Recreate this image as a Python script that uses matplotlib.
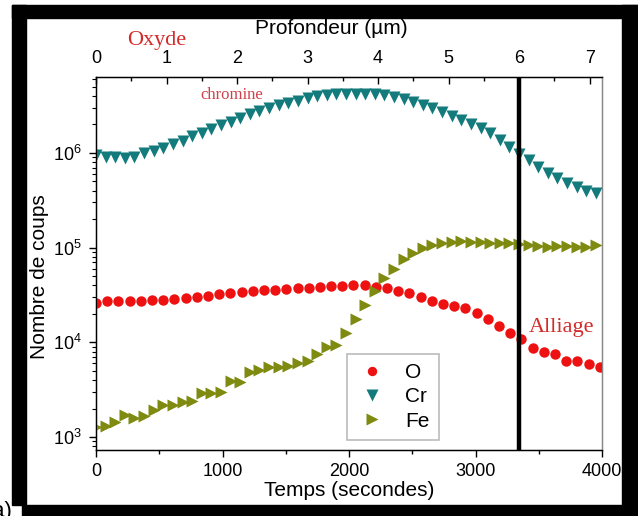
import numpy as np
import matplotlib
matplotlib.use('Agg')
import matplotlib.pyplot as plt
from matplotlib.patches import Rectangle
from matplotlib.ticker import MultipleLocator, LogLocator, NullFormatter

plt.rcParams['font.family'] = ['Liberation Sans', 'DejaVu Sans']
plt.rcParams['mathtext.fontset'] = 'custom'
plt.rcParams['mathtext.rm'] = 'Liberation Sans'
plt.rcParams['mathtext.it'] = 'Liberation Sans:italic'

# --- data ---
t_o = [0, 88.5, 177, 265.5, 354, 442.5, 531, 619.5, 708, 796.5, 885, 973.5,
       1062, 1150.5, 1239, 1327.5, 1416, 1504.5, 1593, 1681.5, 1770, 1858.5,
       1947, 2035.5, 2124, 2212.5, 2301, 2389.5, 2478, 2566.5, 2655, 2743.5,
       2832, 2920.5, 3009, 3097.5, 3186, 3274.5, 3363, 3451.5, 3540, 3628.5,
       3717, 3805.5, 3894, 3982.5]
O = [26200, 27500, 27300, 27300, 27500, 28000, 28000, 28700, 29200, 29900,
     30900, 32100, 33000, 34300, 34800, 35700, 35700, 36900, 37300, 37800,
     38700, 39400, 39600, 40300, 40300, 38700, 37300, 35100, 33000, 29900,
     27300, 25400, 24200, 22900, 20500, 17500, 14900, 12600, 10800, 8650,
     7960, 7530, 6400, 6400, 5900, 5530]

t_m = [0, 76, 152, 228, 304, 380, 456, 532, 608, 684, 760, 836, 912, 988,
       1064, 1140, 1216, 1292, 1368, 1444, 1520, 1596, 1672, 1748, 1824, 1900,
       1976, 2052, 2128, 2204, 2280, 2356, 2432, 2508, 2584, 2660, 2736, 2812,
       2888, 2964, 3040, 3116, 3192, 3268, 3344, 3420, 3496, 3572, 3648, 3724,
       3800, 3876, 3952]
Cr = [9.5e5, 9.1e5, 9.0e5, 8.8e5, 9.0e5, 1.0e6, 1.05e6, 1.13e6, 1.23e6, 1.35e6,
      1.5e6, 1.64e6, 1.8e6, 1.97e6, 2.15e6, 2.35e6, 2.6e6, 2.8e6, 3.0e6, 3.2e6,
      3.4e6, 3.55e6, 3.8e6, 4.0e6, 4.05e6, 4.15e6, 4.2e6, 4.2e6, 4.2e6, 4.15e6,
      4.1e6, 3.87e6, 3.7e6, 3.47e6, 3.2e6, 2.96e6, 2.7e6, 2.46e6, 2.23e6, 2.03e6,
      1.82e6, 1.61e6, 1.37e6, 1.15e6, 9.8e5, 8.4e5, 7.2e5, 6.1e5, 5.4e5, 4.85e5,
      4.4e5, 4.0e5, 3.8e5]
Fe = [1280, 1300, 1450, 1710, 1575, 1670, 1930, 2180, 2180, 2360, 2420, 2890,
      2890, 3000, 3930, 3840, 4900, 5100, 5540, 5540, 5620, 6000, 6400, 7530,
      8850, 9380, 12400, 17500, 24800, 35100, 47400, 59000, 75300, 87100, 98400,
      107000, 111000, 116000, 119000, 116000, 116000, 113000, 113000, 111000,
      109000, 107000, 104000, 102000, 104000, 104000, 102000, 102000, 107000]

um_per_s = 6 / 3345.0
interface_um = 6

fig = plt.figure(figsize=(6.38, 5.16), dpi=100)
W, H = 638.0, 516.0
ax = fig.add_axes([96 / W, 1 - 450 / H, (602 - 96) / W, (450 - 77) / H])

ax.plot(t_o, O, 'o', color='#ee1111', ms=7.5, mec='none', label='O', zorder=3)
ax.plot(t_m, Cr, 'v', color='#137b7b', ms=9, mec='none', label='Cr', zorder=3)
ax.plot(t_m, Fe, '>', color='#7f8a10', ms=9, mec='none', label='Fe', zorder=3)

ax.set_yscale('log')
ax.set_xlim(0, 4000)
ax.set_ylim(729, 6.35e6)
ax.xaxis.set_major_locator(MultipleLocator(1000))
ax.xaxis.set_minor_locator(MultipleLocator(500))
ax.yaxis.set_major_locator(LogLocator(base=10, numticks=10))
ax.yaxis.set_minor_locator(LogLocator(base=10, subs=np.arange(2, 10), numticks=20))
ax.yaxis.set_minor_formatter(NullFormatter())
ax.tick_params(axis='x', which='major', direction='out', length=5, width=1, labelsize=13, pad=4, top=False)
ax.tick_params(axis='x', which='minor', direction='out', length=3, width=1, top=False)
ax.tick_params(axis='y', which='major', direction='out', length=5, width=1, labelsize=13, pad=5, right=False)
ax.tick_params(axis='y', which='minor', direction='out', length=3, width=0.8, right=False)
ax.spines['right'].set_color('#888888')
ax.spines['right'].set_linewidth(1)
for s in ['left', 'bottom', 'top']:
    ax.spines[s].set_linewidth(1)

ax.set_xlabel('Temps (secondes)', fontsize=15, labelpad=1)
ax.set_ylabel('Nombre de coups', fontsize=15, va='center')
ax.yaxis.set_label_coords(-0.111, 0.464)

ax2 = ax.twiny()
ax2.set_xlim(0, 4000 * um_per_s)
ax2.xaxis.set_major_locator(MultipleLocator(1))
ax2.xaxis.set_minor_locator(MultipleLocator(0.5))
ax2.tick_params(axis='x', which='major', direction='in', length=5, width=1, labelsize=13, pad=7)
ax2.tick_params(axis='x', which='minor', direction='in', length=3, width=1)
ax2.spines['right'].set_color('#888888')
ax2.set_xlabel('Profondeur (\u00b5m)', fontsize=15, labelpad=4)
ax2.xaxis.set_label_coords(0.465, 1.115)
ax2.axvline(interface_um, color='black', lw=3.2, zorder=4)

leg = ax.legend(loc='lower left', bbox_to_anchor=(0.497, 0.027), borderaxespad=0,
                fontsize=15, frameon=True, fancybox=False, edgecolor='#aaaaaa',
                handletextpad=0.8, labelspacing=0.25, borderpad=0.45,
                handlelength=1.5, markerscale=0.9)
leg.get_frame().set_linewidth(1.2)

ax.text(1070, 4.1e6, 'chromine', family='Liberation Serif', fontsize=12,
        color='#d0404a', ha='center', va='center')
ax.text(3680, 1.45e4, 'Alliage', family='Liberation Serif', fontsize=16,
        color='#d42a2a', ha='center', va='center')
fig.text(157 / W, 1 - 40 / H, 'Oxyde', family='Liberation Serif', fontsize=16,
         color='#d42a2a', ha='center', va='center')

# black frame around the figure
k = dict(transform=fig.transFigure, color='black', zorder=10)
fig.patches.append(Rectangle((12 / W, 1 - 18 / H), 626 / W, 13 / H, **k))
fig.patches.append(Rectangle((12 / W, 1 - 505 / H), 14 / W, 500 / H, **k))
fig.patches.append(Rectangle((622 / W, 0), 16 / W, 511 / H, **k))
fig.patches.append(Rectangle((22 / W, 0), 616 / W, 11 / H, **k))
fig.text(-0.012, -0.012, 'a)', fontsize=16, ha='left', va='bottom')

fig.savefig('out.png', dpi=100)
